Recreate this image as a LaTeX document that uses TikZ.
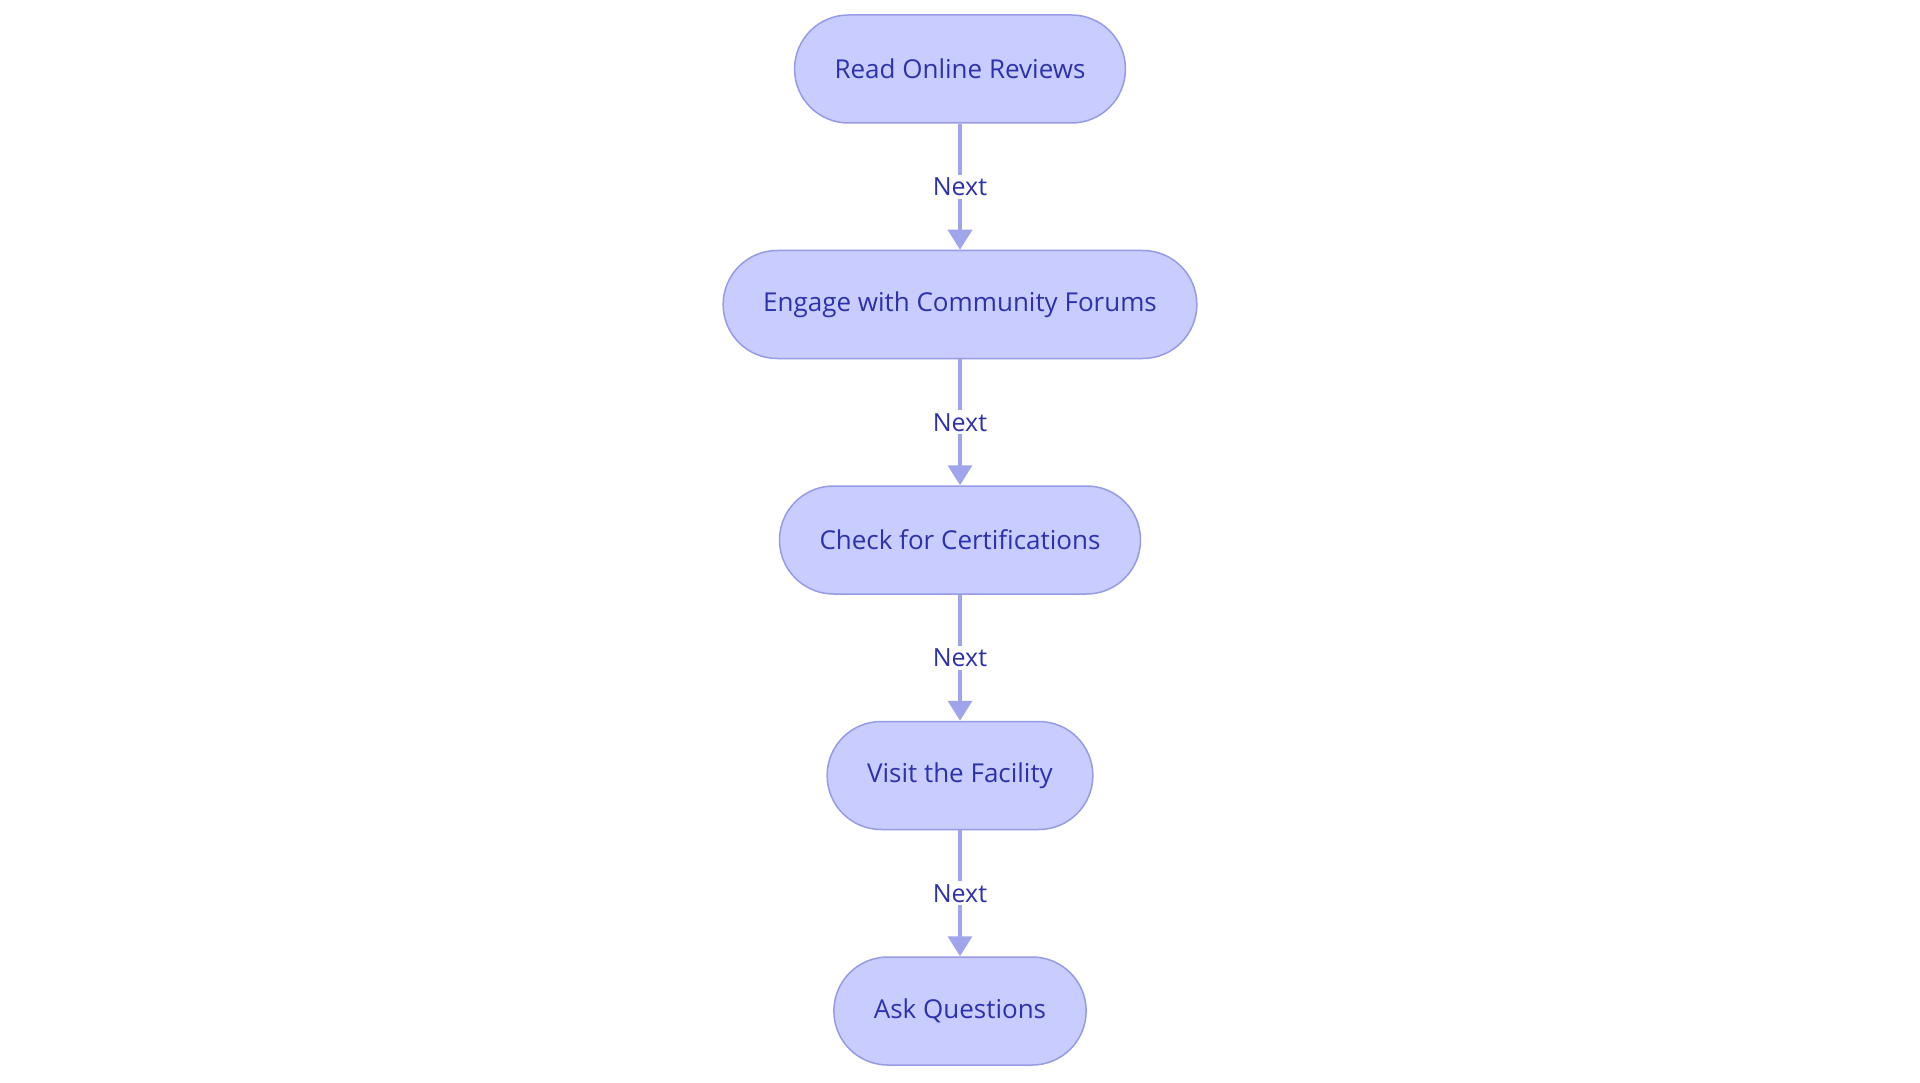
\documentclass[tikz,border=0pt]{standalone}
\usepackage{fontspec}
\setmainfont{Open Sans}
\usetikzlibrary{positioning,arrows.meta}
\definecolor{stepfill}{RGB}{200,204,255}
\definecolor{stepline}{RGB}{150,155,230}
\definecolor{steptext}{RGB}{45,50,170}
\definecolor{flowline}{RGB}{160,164,235}

\begin{document}
\begin{tikzpicture}[x=1pt,y=1pt,
    stepbox/.style={rectangle, rounded corners=54pt, draw=stepline, line width=1.5pt, fill=stepfill, text=steptext, minimum height=108pt, inner xsep=40pt, font=\fontsize{26}{31}\selectfont},
    flow/.style={draw=flowline, line width=3.5pt, -{Triangle[length=20pt,width=24pt]}},
    flowlabel/.style={fill=white, text=steptext, inner sep=3pt, font=\fontsize{25}{30}\selectfont},
    node distance=126pt]
    \fill[white] (0,0) rectangle (1920,-1083);
    \useasboundingbox (0,0) rectangle (1920,-1083);
    \node[stepbox] (reviews) at (960,-69) {Read Online Reviews};
    \node[stepbox, below=of reviews] (forums) {Engage with Community Forums};
    \node[stepbox, below=of forums] (certs) {Check for Certifications};
    \node[stepbox, below=of certs] (visit) {Visit the Facility};
    \node[stepbox, below=of visit] (ask) {Ask Questions};
    \draw[flow] (reviews) -- node[flowlabel] {Next} (forums);
    \draw[flow] (forums) -- node[flowlabel] {Next} (certs);
    \draw[flow] (certs) -- node[flowlabel] {Next} (visit);
    \draw[flow] (visit) -- node[flowlabel] {Next} (ask);
\end{tikzpicture}
\end{document}
